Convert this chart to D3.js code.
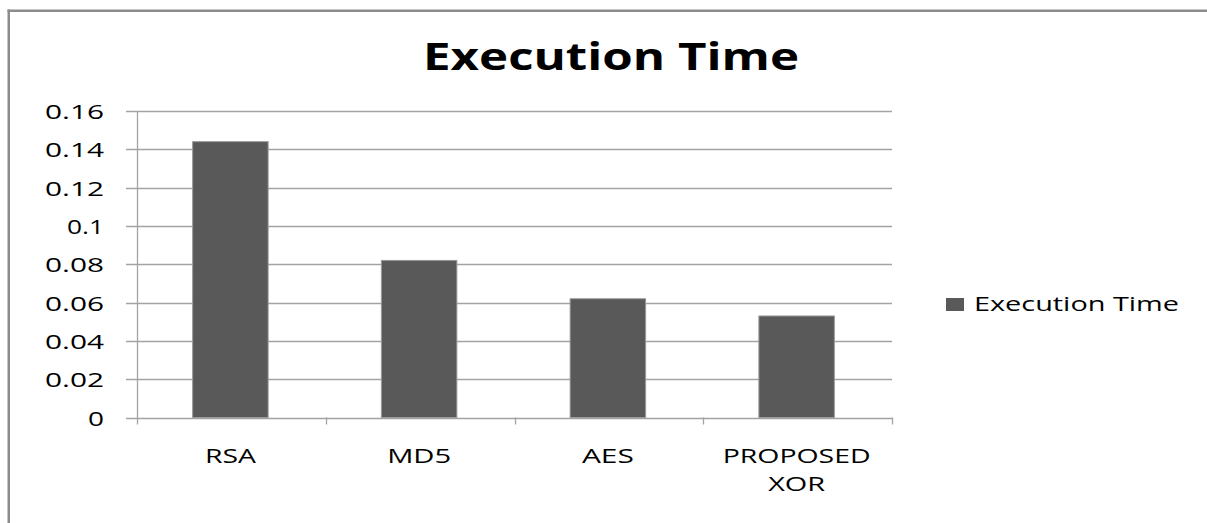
<!DOCTYPE html>
<html>
<head>
<meta charset="utf-8">
<script src="https://cdn.jsdelivr.net/npm/d3@7"></script>
<style>
  html, body { margin: 0; padding: 0; background: #fff; overflow: hidden; }
  svg { display: block; }
  text { font-family: "Open Sans", "DejaVu Sans", sans-serif; fill: #000; }
</style>
</head>
<body>
<svg id="chart" width="1207" height="523"></svg>
<script>
// Execution time per algorithm (seconds)
const categories = ["RSA", "MD5", "AES", "PROPOSED XOR"];
const categoryLines = [["RSA"], ["MD5"], ["AES"], ["PROPOSED", "XOR"]];
const executionTime = [0.144, 0.082, 0.062, 0.053];
const yTicks = [0, 0.02, 0.04, 0.06, 0.08, 0.1, 0.12, 0.14, 0.16];
const yTickLabels = ["0", "0.02", "0.04", "0.06", "0.08", "0.1", "0.12", "0.14", "0.16"];
const seriesName = "Execution Time";
const titleText = "Execution Time";

const svg = d3.select("#chart");
const W = 1207, H = 523;

// outer chart frame: top and left edges (the rest runs off the page)
svg.append("line")
  .attr("x1", 8.75).attr("x2", 8.75)
  .attr("y1", 9.5).attr("y2", H + 10)
  .attr("stroke", "#8c8c8c").attr("stroke-width", 2.5);
svg.append("line")
  .attr("x1", 7.5).attr("x2", W + 10)
  .attr("y1", 10.75).attr("y2", 10.75)
  .attr("stroke", "#8c8c8c").attr("stroke-width", 2.5);

const plot = { left: 137, right: 892, top: 111, bottom: 417.5 };

const x = d3.scaleBand()
  .domain(categories)
  .range([plot.left, plot.right])
  .padding(0);

const y = d3.scaleLinear()
  .domain([0, 0.16])
  .range([plot.bottom, plot.top]);

// horizontal gridlines with small outward ticks
svg.append("g")
  .selectAll("line")
  .data(yTicks)
  .join("line")
  .attr("x1", plot.left - 11)
  .attr("x2", plot.right)
  .attr("y1", d => Math.round(y(d)) + 0.5)
  .attr("y2", d => Math.round(y(d)) + 0.5)
  .attr("stroke", "#a3a3a3")
  .attr("stroke-width", 1.3);

// y tick labels
const yLabelWidths = { 1: 16, 3: 37, 4: 59 };
svg.append("g")
  .selectAll("text")
  .data(yTicks)
  .join("text")
  .attr("x", 104)
  .attr("y", d => Math.round(y(d)) + 8)
  .attr("text-anchor", "end")
  .attr("font-size", 20.5)
  .attr("textLength", (d, i) => yLabelWidths[yTickLabels[i].length])
  .attr("lengthAdjust", "spacingAndGlyphs")
  .text((d, i) => yTickLabels[i]);

// vertical axis line
svg.append("line")
  .attr("x1", plot.left + 0.5).attr("x2", plot.left + 0.5)
  .attr("y1", plot.top).attr("y2", plot.bottom + 7)
  .attr("stroke", "#a3a3a3").attr("stroke-width", 1.3);

// category boundary ticks
const boundaries = categories.map(c => x(c)).concat([plot.right]);
svg.append("g")
  .selectAll("line")
  .data(boundaries.slice(1))
  .join("line")
  .attr("x1", d => Math.round(d) + 0.5).attr("x2", d => Math.round(d) + 0.5)
  .attr("y1", plot.bottom).attr("y2", plot.bottom + 7)
  .attr("stroke", "#a3a3a3").attr("stroke-width", 1.3);

// bars: 150% gap width -> bar occupies 40% of each category slot
const barFrac = 0.4;
svg.append("g")
  .selectAll("rect")
  .data(executionTime)
  .join("rect")
  .attr("x", (d, i) => x(categories[i]) + x.bandwidth() * (1 - barFrac) / 2 - 1)
  .attr("width", x.bandwidth() * barFrac)
  .attr("y", d => y(d))
  .attr("height", d => plot.bottom - y(d))
  .attr("fill", "#595959")
  .attr("stroke", "#9a9a9a")
  .attr("stroke-width", 1);

// category labels
const catLabelWidths = { "RSA": 51, "MD5": 64, "AES": 52, "PROPOSED": 148, "XOR": 57 };
categoryLines.forEach((lines, i) => {
  const cx = x(categories[i]) + x.bandwidth() / 2 - 1;
  lines.forEach((ln, j) => {
    svg.append("text")
      .attr("x", cx)
      .attr("y", 463 + j * 28)
      .attr("text-anchor", "middle")
      .attr("font-size", 20)
      .attr("textLength", catLabelWidths[ln])
      .attr("lengthAdjust", "spacingAndGlyphs")
      .text(ln);
  });
});

// title
svg.append("text")
  .attr("x", 611)
  .attr("y", 70)
  .attr("text-anchor", "middle")
  .attr("font-size", 37)
  .attr("font-weight", "bold")
  .attr("textLength", 376)
  .attr("lengthAdjust", "spacingAndGlyphs")
  .text(titleText);

// legend
svg.append("rect")
  .attr("x", 946).attr("y", 298)
  .attr("width", 18).attr("height", 13)
  .attr("fill", "#595959");
svg.append("text")
  .attr("x", 974).attr("y", 311)
  .attr("font-size", 20.5)
  .attr("textLength", 205)
  .attr("lengthAdjust", "spacingAndGlyphs")
  .text(seriesName);
</script>
</body>
</html>
